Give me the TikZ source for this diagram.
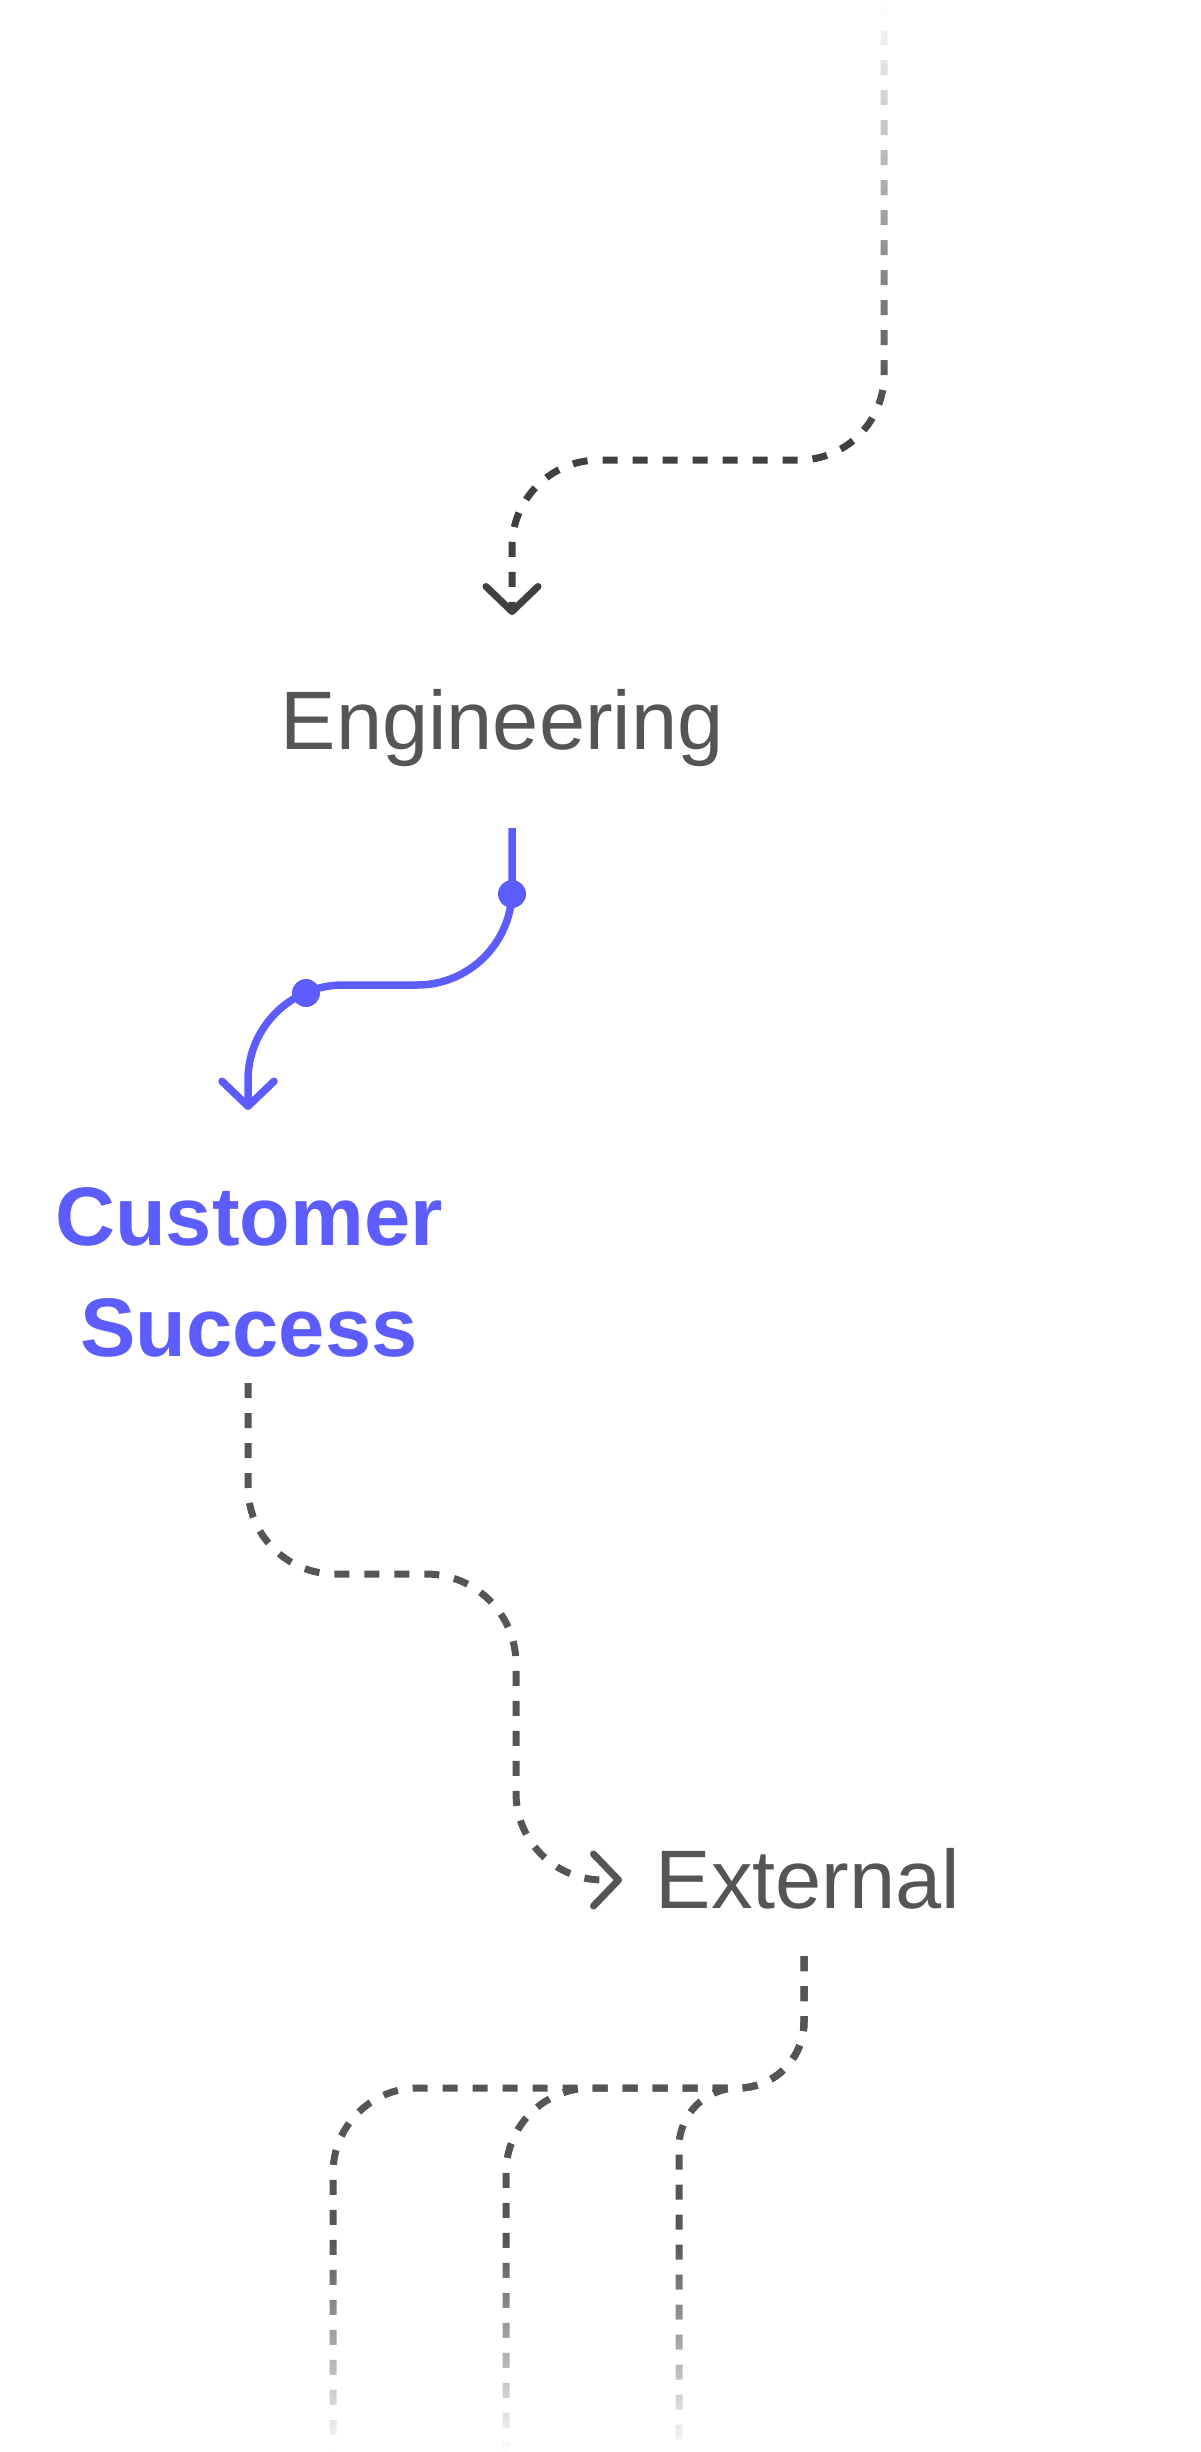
\documentclass[tikz,border=0pt]{standalone}
\usepackage{fontspec}
\setmainfont{Liberation Sans}
\usetikzlibrary{arrows.meta,fadings}
\definecolor{inkgray}{HTML}{555555}
\definecolor{linedark}{HTML}{404040}
\definecolor{linegray}{HTML}{555555}
\definecolor{accent}{HTML}{5C5CFF}
\tikzfading[name=fadedown, top color=transparent!0, bottom color=transparent!100]
\tikzfading[name=fadeup, top color=transparent!100, bottom color=transparent!0]
\begin{document}
\begin{tikzpicture}[x=1pt,y=1pt,
  lbl/.style={inner sep=0pt, text=inkgray, font=\fontsize{83}{111}\selectfont},
  dashline/.style={line width=7pt, dash pattern=on 15pt off 15pt},
  tipend/.style={-{Straight Barb[round,length=25pt,width=52pt]}},
  bluedot/.style={circle, fill=accent, inner sep=0pt, minimum size=28pt},
]
\fill[white] (0,0) rectangle (1200,-2452);
\useasboundingbox (0,0) rectangle (1200,-2452);

% nodes
\node[lbl, anchor=base west] (eng) at (280.5,-749) {Engineering};
\node[lbl, anchor=base, text=accent, font=\fontsize{83}{111}\selectfont\bfseries, align=center] (cs) at (249,-1356) {Customer\\Success};
\node[lbl, anchor=base west] (ext) at (655.5,-1908) {External};

% connector end points
\coordinate (topin) at (884,0);
\coordinate (engin) at (512,-615);
\coordinate (engout) at (512,-828);
\coordinate (csin) at (248,-1110);
\coordinate (csout) at (248,-1383);
\coordinate (extin) at (622,-1880);
\coordinate (extout) at (804,-1956);
\coordinate (outa) at (333,-2452);
\coordinate (outb) at (506,-2452);
\coordinate (outc) at (679,-2452);

% top incoming connector
\draw[dashline, linedark, tipend] (topin) -- ++(0,-375)
  arc[start angle=0,end angle=-90,radius=85] -- ++(-200,0)
  arc[start angle=90,end angle=180,radius=87] -- (engin);

% Engineering -> Customer Success
\draw[line width=7.5pt, accent, tipend] (engout) -- ++(0,-62)
  arc[start angle=0,end angle=-90,radius=95] -- ++(-74,0)
  arc[start angle=90,end angle=180,radius=95] -- (csin);
\node[bluedot] (d1) at (512,-894) {};
\node[bluedot] (d2) at (306,-993) {};

% Customer Success -> External
\draw[dashline, linegray, tipend] (csout) -- ++(0,-104)
  arc[start angle=180,end angle=270,radius=87] -- ++(91,0)
  arc[start angle=90,end angle=0,radius=90] -- ++(0,-129)
  arc[start angle=180,end angle=270,radius=87] -- (extin);

% External -> outgoing branches
\draw[dashline, linegray] (extout) -- ++(0,-66)
  arc[start angle=0,end angle=-90,radius=66] -- (418,-2088)
  arc[start angle=90,end angle=180,radius=85] -- (outa);
\draw[dashline, linegray] (extout) -- ++(0,-66)
  arc[start angle=0,end angle=-90,radius=66] -- (591,-2088)
  arc[start angle=90,end angle=180,radius=85] -- (outb);
\draw[dashline, linegray] (extout) -- ++(0,-66)
  arc[start angle=0,end angle=-90,radius=66]
  arc[start angle=90,end angle=180,radius=59] -- (outc);

% fades
\fill[white, path fading=fadedown] (850,0) rectangle (920,-440);
\fill[white, path fading=fadeup] (300,-2240) rectangle (720,-2452);
\end{tikzpicture}
\end{document}
